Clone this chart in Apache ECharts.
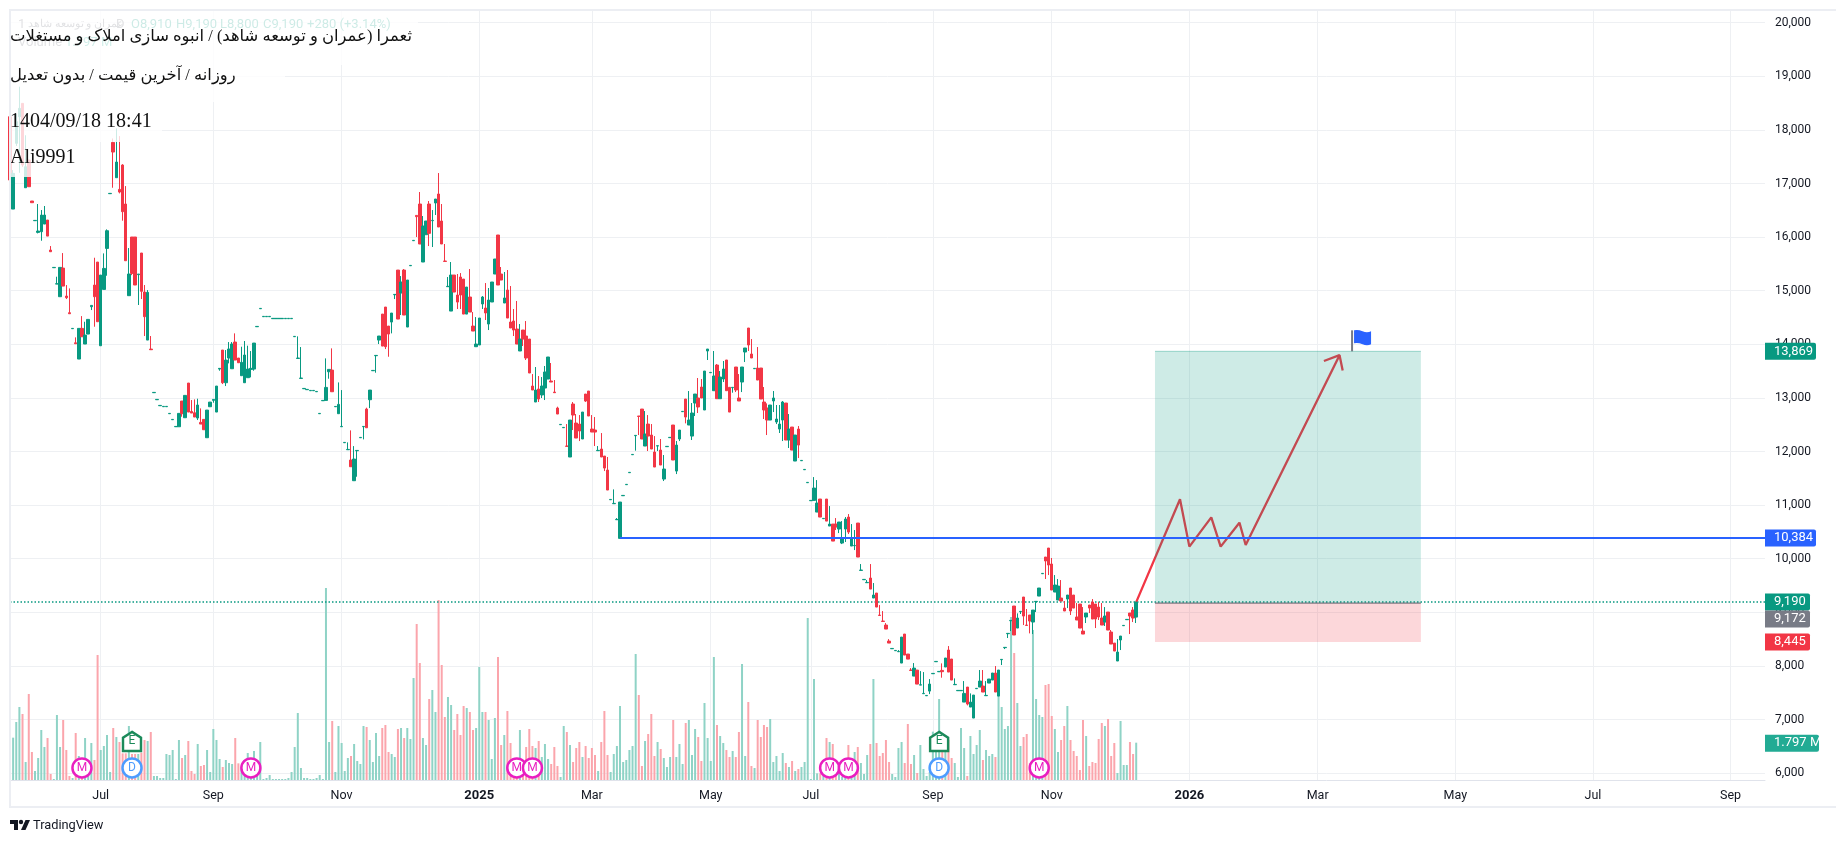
<!DOCTYPE html>
<html>
<head>
<meta charset="utf-8">
<script src="https://cdn.jsdelivr.net/npm/echarts@6/dist/echarts.min.js"></script>
<style>
html, body { margin: 0; padding: 0; background: #fff; }
#chart { width: 1836px; height: 843px; }
</style>
</head>
<body>
<div id="chart"></div>
<script>
// daily bars
const opens = [
18246,16523,17749,18246,18495,16921,17438,16673,16306,16088,
16100,16243,16318,15758,15429,15124,14888,15422,14900,14589,
14291,14028,13725,14297,14005,14191,14701,15105,15534,13973,
15024,15789,16810,17767,17108,16890,17345,16617,14907,16001,
16001,15299,15703,14975,14079,13911,13097,12966,12854,12836,
12836,12705,12593,12462,12462,12941,12630,13277,12748,12723,
12624,12543,12599,12257,12835,12954,12736,13538,13893,13283,
13744,13544,14042,13744,13414,13283,13377,13532,13538,14328,
14664,14515,14515,14515,14478,14478,14478,14478,14478,14478,
14478,14142,13737,13364,13171,13153,13134,13134,13115,12705,
12947,12953,13488,13519,12835,12705,12462,12164,12033,11840,
11455,12014,12257,12462,12792,12966,13507,13787,14079,14564,
14695,14340,14415,14925,15385,14956,15385,14322,15466,15933,
16405,16617,15535,16045,16617,16306,16636,16804,16300,15553,
15075,14620,15292,14919,15255,15217,14564,14882,14340,13955,
13987,14752,14677,14378,14789,15311,16039,15311,14770,15013,
14416,14434,14285,13875,14266,14154,14098,13221,12923,13166,
13054,13184,13352,13315,13109,12811,12500,12444,12102,11897,
12886,12531,12512,12233,13072,13128,12419,12400,12015,12046,
11915,11654,11100,11026,10727,10379,11175,11381,11605,11940,
12295,12661,12792,12102,12512,12307,11990,12102,12027,11486,
12090,12258,12494,11635,12233,12743,12979,12494,12288,12904,
12998,13203,12774,13875,13470,13134,13613,12985,13352,13707,
13197,13191,13576,12998,13296,13856,14304,13819,13545,13557,
13557,12923,12811,12587,12942,12550,12419,12587,12904,12214,
12456,11822,12419,11828,11660,11418,11082,11088,10870,11113,
10746,11113,10609,10646,10646,10553,10292,10553,10777,10236,
10242,10665,9782,9608,9552,9639,9266,9359,8948,8836,
8762,8463,8320,8283,8264,8053,8594,8221,7922,7810,
7922,7642,7481,7443,7530,7854,8078,7891,7916,7979,
8296,8128,7649,7537,7537,7325,7605,7232,7027,7575,
7605,7624,7444,7680,7736,7867,7437,8116,8340,8601,
8843,9117,8706,9011,9285,8762,8949,8818,9198,9303,
9720,10031,10199,9901,9378,9229,9266,9079,9247,9453,
9322,8912,9154,8650,8912,9136,9192,9154,9098,8893,
8818,9005,8632,8426,8091,8483,8750,8862,8986,9042,
8910];
const closes = [
17065,17189,18153,18402,17345,17313,16940,16642,16312,16113,
16411,16411,16019,15727,15435,15130,15435,15086,14870,14570,
14297,14010,14297,14141,14172,14465,14726,14888,14421,15292,
15416,16119,16816,17587,17400,16840,16474,15559,15311,15323,
15106,15311,14988,14515,14969,13899,13103,12972,12860,12842,
12842,12711,12599,12468,12711,12705,13047,12736,12717,12643,
12867,12512,12406,12773,12922,12972,13221,13551,13283,13706,
13911,14005,13706,13656,13663,13800,13538,13551,14023,14334,
14670,14521,14521,14521,14484,14484,14484,14484,14484,14484,
14484,14148,13743,13370,13177,13159,13140,13140,13121,12711,
12953,13196,13532,13115,12841,12879,12468,12170,12039,11716,
11859,12020,12263,12468,12443,13146,13513,13793,14154,13967,
13955,14191,14583,14931,14471,15162,14546,15199,15472,15939,
16381,15871,16206,16300,16070,16312,16710,16188,15871,15547,
15081,15292,14975,14788,14919,14564,15068,14602,14247,14005,
14490,14882,14584,14826,15162,15591,15106,15199,14864,14490,
14304,14266,14005,14098,14098,13744,13464,13147,13147,12979,
13221,13483,13763,13296,13097,12699,12506,12450,12096,12587,
12680,12251,12382,12736,12941,12662,12363,12363,12021,11897,
11691,11281,11106,11032,10733,11057,11181,11387,11611,11946,
12301,12655,12233,12326,12288,12046,11710,12108,11747,11673,
12096,12264,11841,12120,12400,12749,12643,12587,12718,13072,
12830,12998,13501,13912,13476,13408,12985,13389,13539,13134,
12736,13197,13147,12942,13576,13931,13987,13744,13551,13333,
12979,12774,12587,12867,12998,12606,12512,12923,12214,12419,
12027,12307,12120,11834,11666,11424,11088,11318,11038,10777,
10752,10702,10646,10329,10590,10684,10385,10740,10497,10385,
10248,10031,9788,9614,9558,9433,9322,9098,8942,8830,
8687,8426,8326,8289,8270,8538,8202,8127,7916,7959,
7661,7648,7487,7449,7661,7860,8084,7897,7892,8147,
7885,7736,7655,7543,7543,7487,7288,7325,7456,7581,
7717,7512,7450,7755,7867,7512,7923,8122,8346,8607,
8849,8576,8893,9017,8930,8756,8837,9042,9204,9453,
9726,9957,9882,9415,9509,9490,9210,9024,9322,9024,
9079,8856,8706,8594,8986,9079,8874,8874,8912,8762,
8930,8669,8408,8277,8258,8557,8756,8868,8930,8893,
9190];
const lows = [
16720,16523,17700,17200,17310,16921,16940,16642,16306,16069,
15932,16243,16019,15727,15429,15124,14888,15086,14844,14570,
14291,14010,13725,14141,14005,14191,14639,14328,14421,13973,
15024,15279,16810,16921,17108,16816,16306,15559,14907,15290,
15106,14733,14845,14154,14079,13899,13097,12966,12854,12836,
12836,12705,12593,12462,12462,12649,12630,12736,12717,12643,
12587,12512,12406,12257,12835,12910,12736,13507,13258,13221,
13644,13544,13706,13656,13414,13283,13377,13383,13507,14328,
14664,14515,14515,14515,14478,14478,14478,14478,14478,14478,
14478,14142,13737,13364,13171,13153,13134,13134,13115,12705,
12947,12953,13358,13115,12835,12705,12462,12164,12033,11716,
11455,11529,12257,12226,12443,12810,13507,13470,14005,13967,
13911,13768,14204,14844,14471,14546,14546,14322,15466,15933,
16001,15871,15535,16045,15833,15815,16412,16188,15871,15547,
15075,14620,14975,14658,14658,14564,14564,14602,14247,13955,
13987,14658,14453,14266,14789,15311,15106,15199,14770,14490,
14304,14154,14005,13875,13968,13707,13464,13147,12923,12923,
12998,12960,13352,13296,13097,12699,12500,12444,12096,11897,
12400,12251,12195,12233,12923,12662,12363,12102,12015,11897,
11635,11281,11100,11026,10727,10379,11175,11381,11605,11940,
12015,12307,12233,12102,12009,12046,11710,12009,11747,11449,
12090,12258,11841,11579,12195,12743,12525,12494,12214,12662,
12718,12998,12774,13707,13470,13134,12985,12985,13296,13134,
12736,13097,13109,12942,13109,13669,13875,13744,13545,13333,
12979,12606,12307,12587,12736,12512,12345,12195,12214,12065,
12027,11822,11878,11828,11660,11418,11082,11088,10870,10777,
10746,10702,10609,10329,10535,10478,10273,10311,10460,10236,
10161,10031,9782,9608,9552,9433,9266,9098,8942,8830,
8687,8426,8320,8283,8264,8053,8202,8127,7916,7810,
7661,7642,7481,7443,7474,7854,8078,7891,7780,7979,
7885,7736,7649,7537,7537,7325,7263,7232,7027,7575,
7605,7512,7444,7680,7736,7512,7437,8016,8314,8520,
8650,8576,8706,8968,8762,8756,8607,8594,9005,9303,
9720,9621,9695,9415,9378,9229,9210,9024,9079,8949,
9079,8856,8706,8594,8800,8986,8874,8706,8856,8762,
8744,8669,8408,8277,8091,8296,8750,8862,8594,8818,
8800];
const highs = [
18300,17250,18300,18806,18495,17900,17438,16673,16312,16617,
16505,16580,16318,15833,15435,15261,15435,15702,15105,15043,
14297,14129,14297,14526,14421,14465,14726,15615,15534,15292,
15696,16144,16816,17840,18028,17885,17360,16952,15796,16001,
16001,15311,15703,15106,15012,14154,13103,12972,12860,12842,
12842,12711,12599,12468,12711,12941,13047,13277,12960,12972,
12985,12804,12599,12773,12922,12972,13221,13551,13893,13893,
14042,14042,14204,13744,13955,14061,13974,13874,14023,14334,
14670,14521,14521,14521,14484,14484,14484,14484,14484,14484,
14484,14148,14148,13949,13177,13159,13140,13140,13121,12711,
12953,13737,13532,13924,12841,13289,13146,12170,12170,12394,
12101,12020,12263,12468,12817,13146,13513,13793,14154,14564,
14695,14340,14583,14931,15385,15273,15404,15199,15472,15939,
16405,16841,16393,16300,16673,16505,16710,17195,16617,15871,
15255,15535,15292,15311,15329,15217,15068,15404,14602,14508,
14490,14901,15143,15050,15162,15591,16039,15442,15349,15386,
15087,14658,14808,14378,14266,14434,14098,13445,13576,13408,
13389,13595,13763,13651,13333,12836,12506,12450,12512,12587,
12923,12699,12680,12736,13072,13128,12680,12643,12102,12344,
11915,11897,11106,11293,10758,11057,11181,11387,11611,11946,
12301,12661,12792,12755,12680,12512,12288,12108,12233,11934,
12096,12264,12494,12195,12400,12749,12979,13128,12904,13072,
13371,13352,13501,13912,13476,13875,13632,13501,13688,13707,
13197,13197,13576,13445,13576,13931,14304,14098,13551,13949,
13557,13203,12898,12867,13128,12867,12867,12942,12904,12699,
12456,12307,12475,11834,11666,11424,11088,11523,11467,11113,
10752,11113,10982,10646,10758,10684,10702,10777,10833,10646,
10535,10665,9900,9614,9602,9900,9546,9359,9135,9023,
8799,8500,8326,8289,8295,8538,8594,8221,7959,8053,
7922,7903,7885,7449,7754,7860,8084,7897,8047,8147,
8370,8128,7767,7543,7543,7717,7605,7487,7456,7581,
7923,7923,7717,7755,7867,7997,7923,8122,8346,8607,
8849,9117,8980,9017,9285,9061,8949,9042,9204,9453,
9726,10031,10199,10013,9695,9621,9602,9210,9322,9453,
9322,9173,9154,9098,8986,9136,9247,9154,9192,9173,
9098,9005,8669,8426,8501,8557,8756,8868,8986,9098,
9190];
// volume, in steps of volumeUnit (million shares)
const volumes = [
462,127,174,219,198,54,258,84,27,66,
150,99,126,18,3,195,99,180,90,12,
6,141,72,60,126,60,111,60,375,90,
102,135,24,156,129,114,80,80,162,78,
78,78,82,120,117,144,12,12,6,6,
78,75,90,3,120,66,75,117,27,18,
108,42,45,90,24,153,120,63,39,60,
51,48,126,50,40,60,81,60,87,50,
114,3,6,15,3,3,3,3,3,6,
24,99,201,36,6,6,3,3,6,15,
3,576,114,177,24,162,111,27,66,72,
108,57,48,162,159,120,54,141,72,156,
165,84,78,69,153,156,126,156,123,306,
468,351,126,105,243,270,204,540,345,189,
249,225,150,198,135,222,216,204,150,156,
339,204,204,180,63,186,369,105,135,207,
111,60,50,150,50,99,153,102,96,117,
69,108,63,48,99,42,9,162,144,105,
54,96,114,69,102,66,96,75,27,114,
207,75,24,78,102,222,54,60,90,102,
378,255,42,117,138,198,72,114,93,66,
39,69,180,69,108,48,171,180,75,153,
129,57,231,126,57,369,165,132,111,90,
69,87,69,144,348,72,234,42,36,180,
129,165,159,183,54,72,27,81,51,39,
57,27,33,39,54,486,3,303,20,20,
50,126,114,108,40,40,10,40,105,60,
84,99,51,18,75,108,303,111,72,81,
120,54,18,9,96,114,51,168,48,75,
21,105,33,12,24,145,140,243,140,120,
120,66,51,9,156,96,12,132,78,105,
150,60,90,72,78,69,255,219,153,162,
489,381,231,102,129,138,50,450,243,195,
189,285,288,192,153,84,120,162,222,120,
87,72,30,180,132,42,54,51,123,171,
162,183,72,111,21,177,45,45,114,78,
112];
const volumeUnit = 0.016;

// time scale: slots include the empty future part
const slotCount = 562;
const tickIndex = [29, 65, 106, 150, 186, 224, 256, 295, 333, 377, 418, 462, 506, 550];
const tickLabels = ['Jul', 'Sep', 'Nov', '2025', 'Mar', 'May', 'Jul', 'Sep', 'Nov', '2026', 'Mar', 'May', 'Jul', 'Sep'];

const lastPrice = 9190;
const supportPrice = 10384;
const supportStart = 195;
const targetPrice = 13869;
const entryPrice = 9172;
const stopPrice = 8445;
const boxStart = 366;
const boxEnd = 451;

// hand drawn projection
const pathIndex = [360, 374, 377, 384, 387, 393, 395, 425];
const pathPrice = [9190, 11108, 10225, 10772, 10225, 10672, 10256, 13797];
const headIndex = [420, 425, 426];
const headPrice = [13688, 13797, 13511];
const flagIndex = 429;

const mIndex = [23, 77, 162, 167, 262, 268, 329];
const dIndex = [39, 297];
const eIndex = [39, 297];

const tagPrices = [13869, 10384, 9190, 8875, 8445, 6557];
const tagTexts = ['13,869', '10,384', '9,190', '9,172', '8,445', '1.797 M'];
const tagColors = ['#089981', '#2962ff', '#089981', '#787b86', '#f23645', '#22ab94'];
const tagWidths = [51, 51, 45, 45, 45, 54];

const GREEN = '#089981';
const RED = '#f23645';
const GRID = '#eef0f3';
const UI_FONT = 'Roboto, "Noto Sans", sans-serif';
const SERIF = '"Liberation Serif", "DejaVu Sans", serif';

const categories = [];
for (let i = 0; i < slotCount; i++) {
    const t = tickIndex.indexOf(i);
    categories.push(t >= 0 ? tickLabels[t] : String(i));
}
const isTick = function (i) { return tickIndex.indexOf(i) >= 0; };

const candleData = opens.map(function (o, i) { return [o, closes[i], lows[i], highs[i]]; });
const volumeData = volumes.map(function (v, i) {
    return {
        value: v * volumeUnit,
        itemStyle: { color: closes[i] >= opens[i] ? '#8fd3c6' : '#fba5ac' }
    };
});

function plainX(extra) {
    return Object.assign({
        type: 'category',
        data: categories,
        boundaryGap: false,
        axisLine: { show: false },
        axisTick: { show: false },
        axisLabel: { show: false },
        splitLine: { show: false }
    }, extra);
}

function renderBox(params, api) {
    const a = api.coord([api.value(0), api.value(2)]);
    const b = api.coord([api.value(1), api.value(3)]);
    return {
        type: 'rect',
        shape: { x: a[0], y: a[1], width: b[0] - a[0], height: b[1] - a[1] },
        style: { fill: api.value(4) ? 'rgba(242,54,69,0.2)' : 'rgba(8,153,129,0.2)' }
    };
}

function renderTag(params, api) {
    const i = params.dataIndex;
    const p = api.coord([0, api.value(1)]);
    const x = params.coordSys.x + params.coordSys.width;
    return {
        type: 'group',
        children: [
            {
                type: 'rect',
                shape: { x: x, y: p[1] - 8.5, width: tagWidths[i], height: 17, r: [0, 2, 2, 0] },
                style: { fill: tagColors[i] }
            },
            {
                type: 'text',
                style: {
                    x: x + 9, y: p[1], text: tagTexts[i], fill: '#fff',
                    font: '13px ' + UI_FONT, verticalAlign: 'middle'
                }
            }
        ]
    };
}

function renderFlag(params, api) {
    const p = api.coord([api.value(0), api.value(1)]);
    const x = p[0], y = p[1];
    return {
        type: 'group',
        children: [
            { type: 'rect', shape: { x: x - 1, y: y - 21, width: 2, height: 21 }, style: { fill: '#787b86' } },
            {
                type: 'path',
                shape: {
                    pathData: 'M' + (x + 2) + ' ' + (y - 21) + 'q4 -1 8.5 1t8.5 0v13q-4 2 -8.5 0t-8.5 -1z'
                },
                style: { fill: '#2962ff' }
            }
        ]
    };
}

function markerSeries(name, idx, level, symbol, size, color, text) {
    return {
        name: name,
        type: 'scatter',
        xAxisIndex: 2,
        yAxisIndex: 2,
        z: 6,
        symbol: symbol,
        symbolSize: size,
        itemStyle: { color: '#fff', borderColor: color, borderWidth: 2.5, opacity: 1 },
        label: { show: true, position: 'inside', formatter: text, color: color, fontFamily: UI_FONT, fontSize: 12 },
        silent: true,
        data: idx.map(function (i) { return [i, level]; })
    };
}

const chart = echarts.init(document.getElementById('chart'));

const option = {
    animation: false,
    backgroundColor: '#fff',
    tooltip: { show: false },
    grid: [
        { left: 10, right: 71, top: 10, bottom: 63 },
        { left: 10, right: 71, top: 22.7, bottom: 69.9 },
        { left: 10, right: 71, top: 400, bottom: 63 }
    ],
    xAxis: [
        plainX({
            gridIndex: 0,
            axisLine: { show: true, lineStyle: { color: '#e0e3eb', width: 1 } },
            axisLabel: {
                show: true,
                interval: function (i) { return isTick(i); },
                margin: 9,
                color: '#131722',
                fontFamily: UI_FONT,
                fontSize: 12.5,
                formatter: function (v) { return /^20/.test(v) ? '{y|' + v + '}' : v; },
                rich: { y: { fontWeight: 'bold', color: '#131722', fontFamily: UI_FONT, fontSize: 13 } }
            },
            splitLine: {
                show: true,
                interval: function (i) { return isTick(i); },
                lineStyle: { color: GRID, width: 1 }
            }
        }),
        plainX({ gridIndex: 1 }),
        plainX({ gridIndex: 2 })
    ],
    yAxis: [
        { gridIndex: 0, type: 'value', min: 0, max: 1, show: false },
        {
            gridIndex: 1,
            type: 'value',
            position: 'right',
            min: 6000,
            max: 20000,
            interval: 1000,
            axisLine: { show: false },
            axisTick: { show: false },
            axisLabel: {
                margin: 10,
                color: '#131722',
                fontFamily: UI_FONT,
                fontSize: 12,
                formatter: function (v) { return v.toLocaleString('en-US'); }
            },
            splitLine: { lineStyle: { color: GRID, width: 1 } }
        },
        { gridIndex: 2, type: 'value', min: 0, max: 18.24, show: false }
    ],
    series: [
        {
            name: 'Volume',
            type: 'bar',
            xAxisIndex: 2,
            yAxisIndex: 2,
            z: 1,
            barWidth: 2,
            silent: true,
            data: volumeData
        },
        {
            name: 'Last',
            type: 'line',
            xAxisIndex: 1,
            yAxisIndex: 1,
            z: 2,
            symbol: 'none',
            lineStyle: { color: GREEN, width: 1.5, type: [1.5, 2] },
            data: [[0, lastPrice], [slotCount - 1, lastPrice]]
        },
        {
            name: 'Price',
            type: 'candlestick',
            xAxisIndex: 1,
            yAxisIndex: 1,
            z: 3,
            barWidth: 3,
            large: false,
            itemStyle: { color: GREEN, color0: RED, borderColor: GREEN, borderColor0: RED, borderWidth: 1 },
            data: candleData
        },
        {
            name: 'Path',
            type: 'line',
            xAxisIndex: 1,
            yAxisIndex: 1,
            z: 3,
            symbol: 'none',
            lineStyle: { color: RED, width: 2.3 },
            data: pathIndex.map(function (x, i) { return [x, pathPrice[i]]; })
        },
        {
            name: 'Head',
            type: 'line',
            xAxisIndex: 1,
            yAxisIndex: 1,
            z: 3,
            symbol: 'none',
            lineStyle: { color: RED, width: 2.3 },
            data: headIndex.map(function (x, i) { return [x, headPrice[i]]; })
        },
        {
            name: 'Position',
            type: 'custom',
            xAxisIndex: 1,
            yAxisIndex: 1,
            z: 4,
            silent: true,
            renderItem: renderBox,
            encode: { x: [0, 1], y: [2, 3] },
            data: [
                [boxStart, boxEnd, targetPrice, entryPrice, 0],
                [boxStart, boxEnd, entryPrice, stopPrice, 1]
            ]
        },
        {
            name: 'Entry',
            type: 'line',
            xAxisIndex: 1,
            yAxisIndex: 1,
            z: 5,
            symbol: 'none',
            lineStyle: { color: '#5d606b', width: 1 },
            data: [[boxStart, entryPrice], [boxEnd, entryPrice]]
        },
        {
            name: 'Target edge',
            type: 'line',
            xAxisIndex: 1,
            yAxisIndex: 1,
            z: 5,
            symbol: 'none',
            lineStyle: { color: 'rgba(8,153,129,0.35)', width: 1 },
            data: [[boxStart, targetPrice], [boxEnd, targetPrice]]
        },
        {
            name: 'Support',
            type: 'line',
            xAxisIndex: 1,
            yAxisIndex: 1,
            z: 5,
            symbol: 'none',
            lineStyle: { color: '#2962ff', width: 2 },
            data: [[supportStart, supportPrice], [slotCount - 1, supportPrice]]
        },
        {
            name: 'Flag',
            type: 'custom',
            xAxisIndex: 1,
            yAxisIndex: 1,
            z: 6,
            silent: true,
            renderItem: renderFlag,
            data: [[flagIndex, targetPrice]]
        },
        markerSeries('Earnings', eIndex, 1.85, 'path://M10 0L20 6V20H0V6Z', [18, 19], '#1b8a5a', 'E'),
        markerSeries('Dividend', dIndex, 0.58, 'circle', 19, '#4d9cff', 'D'),
        markerSeries('Meeting', mIndex, 0.58, 'circle', 19, '#e91ec0', 'M'),
        {
            name: 'Tags',
            type: 'custom',
            xAxisIndex: 1,
            yAxisIndex: 1,
            z: 10,
            silent: true,
            clip: false,
            renderItem: renderTag,
            data: tagPrices.map(function (p) { return [0, p]; })
        }
    ],
    graphic: [
        // chart frame
        { type: 'rect', z: 30, silent: true, shape: { x: 10, y: 10, width: 1830, height: 797 }, style: { fill: null, stroke: '#eceef3', lineWidth: 2 } },
        // TradingView legend, covered by the pasted caption
        { type: 'text', z: 19, x: 18, y: 18, style: { text: '1', fill: '#6a6d78', font: '13px ' + UI_FONT } },
        { type: 'text', z: 19, x: 28, y: 19, style: { text: '\u202Bعمران و توسعه شاهد\u202C', fill: '#6a6d78', font: '11px ' + UI_FONT } },
        { type: 'text', z: 19, x: 116, y: 18, style: { text: 'D', fill: '#6a6d78', font: '13px ' + UI_FONT } },
        { type: 'text', z: 19, x: 131, y: 18, style: { text: 'O8,910', fill: '#089981', font: '13px ' + UI_FONT } },
        { type: 'text', z: 19, x: 176, y: 18, style: { text: 'H9,190', fill: '#089981', font: '13px ' + UI_FONT } },
        { type: 'text', z: 19, x: 220, y: 18, style: { text: 'L8,800', fill: '#089981', font: '13px ' + UI_FONT } },
        { type: 'text', z: 19, x: 263, y: 18, style: { text: 'C9,190', fill: '#089981', font: '13px ' + UI_FONT } },
        { type: 'text', z: 19, x: 307, y: 18, style: { text: '+280 (+3.14%)', fill: '#089981', font: '13px ' + UI_FONT } },
        { type: 'text', z: 19, x: 18, y: 36, style: { text: 'Volume', fill: '#6a6d78', font: '13px ' + UI_FONT } },
        { type: 'text', z: 19, x: 65, y: 36, style: { text: '1.797 M', fill: '#22ab94', font: '13px ' + UI_FONT } },
        // white boxes behind the caption lines
        { type: 'rect', z: 20, silent: true, shape: { x: 11, y: 11, width: 407, height: 54 }, style: { fill: 'rgba(255,255,255,0.8)' } },
        { type: 'rect', z: 20, silent: true, shape: { x: 11, y: 65, width: 274, height: 37 }, style: { fill: 'rgba(255,255,255,0.8)' } },
        { type: 'rect', z: 20, silent: true, shape: { x: 11, y: 102, width: 151, height: 40 }, style: { fill: 'rgba(255,255,255,0.8)' } },
        { type: 'rect', z: 20, silent: true, shape: { x: 11, y: 142, width: 69, height: 35 }, style: { fill: 'rgba(255,255,255,0.8)' } },
        { type: 'text', z: 21, x: 10, y: 29, style: { text: '\u202Bثعمرا (عمران و توسعه شاهد) / انبوه سازی املاک و مستغلات\u202C', fill: '#111', font: '16.4px ' + SERIF } },
        { type: 'text', z: 21, x: 10, y: 68, style: { text: '\u202Bروزانه / آخرین قیمت / بدون تعدیل\u202C', fill: '#111', font: '16.4px ' + SERIF } },
        { type: 'text', z: 21, x: 10, y: 112, style: { text: '1404/09/18 18:41', fill: '#111', font: '20px ' + SERIF } },
        { type: 'text', z: 21, x: 10, y: 148, style: { text: 'Ali9991', fill: '#111', font: '20px ' + SERIF } },
        // footer logo
        { type: 'polygon', z: 21, silent: true, shape: { points: [[10, 820], [18, 820], [18, 830], [14, 830], [14, 824], [10, 824]] }, style: { fill: '#131722' } },
        { type: 'polygon', z: 21, silent: true, shape: { points: [[21, 830], [25.5, 830], [30, 820], [25.5, 820]] }, style: { fill: '#131722' } },
        { type: 'circle', z: 21, silent: true, shape: { cx: 21, cy: 822, r: 2.2 }, style: { fill: '#131722' } },
        { type: 'text', z: 21, x: 33, y: 819, style: { text: 'TradingView', fill: '#131722', font: '12.8px ' + UI_FONT } }
    ]
};

chart.setOption(option);
</script>
</body>
</html>
